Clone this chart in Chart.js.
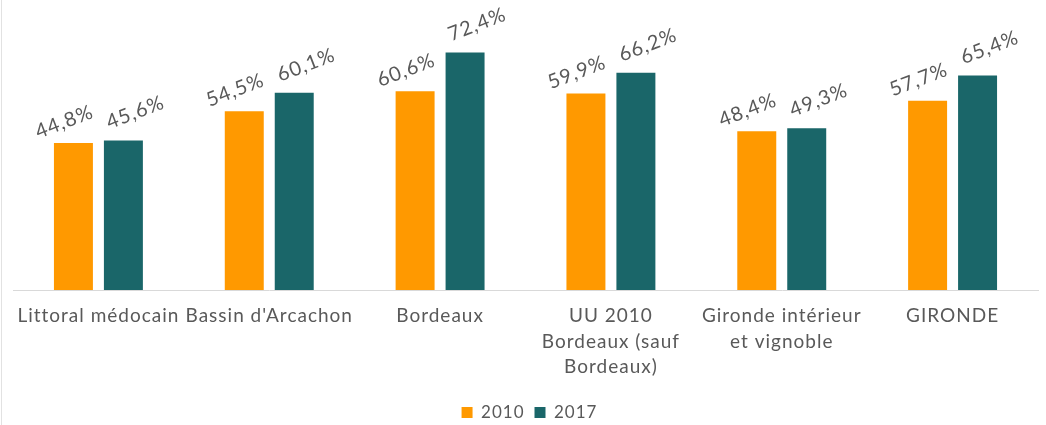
<!DOCTYPE html>
<html lang="fr">
<head>
<meta charset="utf-8">
<script src="https://cdn.jsdelivr.net/npm/chart.js@4.4.1/dist/chart.umd.min.js"></script>
<style>
  html, body { margin: 0; padding: 0; background: #fff; }
  #wrap { position: relative; width: 1046px; height: 425px; }
  #edge { position: absolute; left: 1px; top: 0; width: 1px; height: 425px; background: #e2e2e2; }
</style>
</head>
<body>
<div id="wrap">
  <canvas id="chart" width="1046" height="425"></canvas>
  <div id="edge"></div>
</div>
<script>
const categories = [
  'Littoral médocain',
  "Bassin d'Arcachon",
  'Bordeaux',
  ['UU 2010', 'Bordeaux (sauf', 'Bordeaux)'],
  ['Gironde intérieur', 'et vignoble'],
  'GIRONDE'
];
const seriesNames = ['2010', '2017'];
const values2010 = [44.8, 54.5, 60.6, 59.9, 48.4, 57.7];
const values2017 = [45.6, 60.1, 72.4, 66.2, 49.3, 65.4];
const colors = ['#ff9900', '#1a6669'];
const textColor = '#595959';

// offset of the rotated value label from the top of each bar, per series
const labelOffsets = [[-9, -21], [12, -28]];

function formatPct(v) {
  return v.toFixed(1).replace('.', ',') + '%';
}

// the original text is a bit wider than Lato, so space the letters a little
const spacing = {
  id: 'spacing',
  beforeDraw(chart) {
    chart.ctx.letterSpacing = '1px';
  }
};

const valueLabels = {
  id: 'valueLabels',
  afterDatasetsDraw(chart) {
    const ctx = chart.ctx;
    ctx.save();
    ctx.font = '20px Lato';
    ctx.fillStyle = textColor;
    ctx.textAlign = 'center';
    ctx.textBaseline = 'middle';
    chart.data.datasets.forEach((ds, i) => {
      const [dx, dy] = labelOffsets[i];
      chart.getDatasetMeta(i).data.forEach((bar, j) => {
        ctx.save();
        ctx.translate(bar.x + dx, bar.y + dy);
        ctx.rotate(-21 * Math.PI / 180);
        ctx.fillText(formatPct(ds.data[j]), 0, 0);
        ctx.restore();
      });
    });
    ctx.restore();
  }
};

const ctx = document.getElementById('chart').getContext('2d');
new Chart(ctx, {
  type: 'bar',
  data: {
    labels: categories,
    datasets: [
      { label: seriesNames[0], data: values2010, backgroundColor: colors[0], borderWidth: 0 },
      { label: seriesNames[1], data: values2017, backgroundColor: colors[1], borderWidth: 0 }
    ]
  },
  options: {
    responsive: false,
    animation: false,
    categoryPercentage: 0.585,
    barPercentage: 0.78,
    layout: { padding: { left: 13, right: 8, top: 0, bottom: -6 } },
    plugins: {
      legend: {
        position: 'bottom',
        labels: {
          boxWidth: 11,
          boxHeight: 11,
          padding: 10,
          color: textColor,
          font: { family: 'Lato', size: 17 }
        }
      },
      tooltip: { enabled: false }
    },
    scales: {
      x: {
        grid: { display: false },
        border: { color: '#d9d9d9', width: 1 },
        ticks: {
          color: textColor,
          font: { family: 'Lato', size: 19, lineHeight: 1.35 },
          maxRotation: 0,
          autoSkip: false,
          padding: 5
        },
        afterFit(scale) { scale.height = 104; }
      },
      y: {
        display: false,
        min: 0,
        max: 88.4
      }
    }
  },
  plugins: [spacing, valueLabels]
});
</script>
</body>
</html>
